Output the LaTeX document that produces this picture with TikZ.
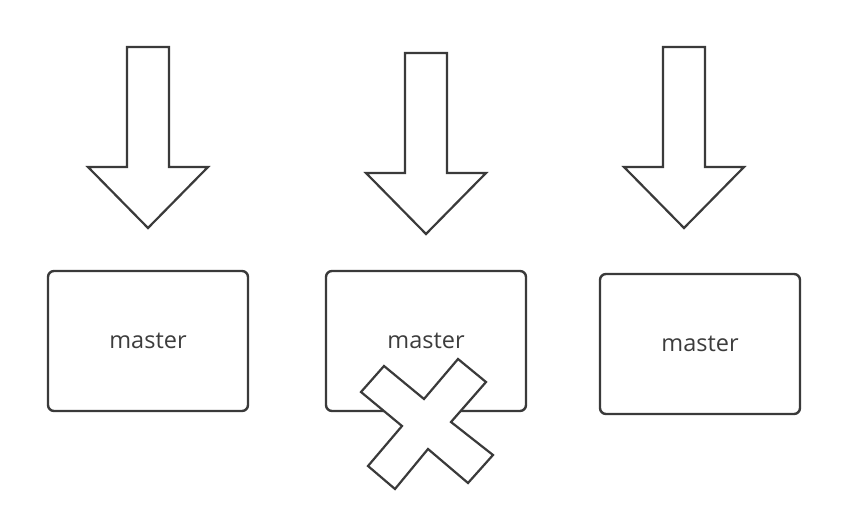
\documentclass[tikz,border=0pt]{standalone}
\usepackage{fontspec}
\setmainfont{Open Sans}
\usepackage{tikz}
\definecolor{linegray}{HTML}{3A3A3A}
\definecolor{textgray}{HTML}{3C3C3C}

\begin{document}
\begin{tikzpicture}[x=1pt,y=-1pt,
   box/.style={draw=linegray,line width=2.4pt,rounded corners=6pt,minimum width=200pt,minimum height=140pt,inner sep=0pt,text=textgray,font=\fontsize{23.5}{28}\selectfont},
   outline/.style={draw=linegray,line width=2.2pt,fill=white,line join=miter}]
   \useasboundingbox (0,0) rectangle (852,514);
   % the three masters
   \node[box] (m1) at (148,341) {master};
   \node[box] (m2) at (426,341) {master};
   \node[box] (m3) at (700,344) {master};
   % arrows pointing down
   \foreach \x/\y in {148/47, 426/53, 684/47}
      \draw[outline] (\x-21,\y) -- (\x+21,\y) -- (\x+21,\y+120) -- (\x+60,\y+120)
         -- (\x,\y+181) -- (\x-60,\y+120) -- (\x-21,\y+120) -- cycle;
   % cross over the middle one
   \draw[outline] (384,366) -- (424,399) -- (458,359) -- (486,382) -- (451,422)
      -- (493,455) -- (468,483) -- (428,449) -- (395,489) -- (368,466)
      -- (402,426) -- (361,392) -- cycle;
\end{tikzpicture}
\end{document}
